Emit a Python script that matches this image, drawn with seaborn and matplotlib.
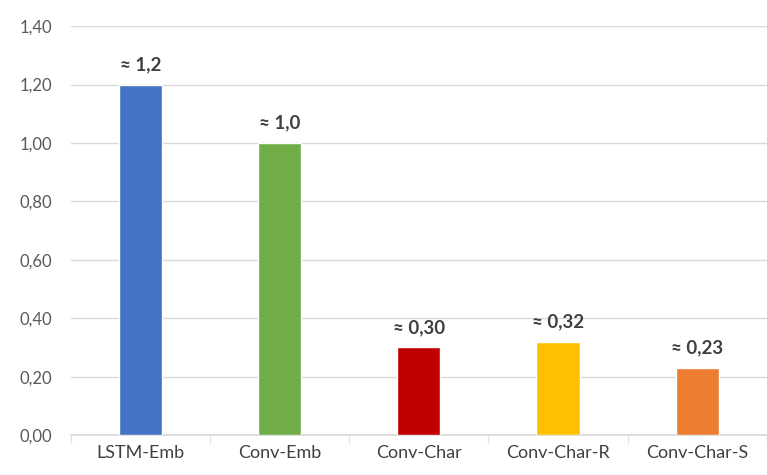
import matplotlib
matplotlib.use("Agg")
import matplotlib.pyplot as plt
import seaborn as sns
import pandas as pd
import numpy as np

categories = ["LSTM-Emb", "Conv-Emb", "Conv-Char", "Conv-Char-R", "Conv-Char-S"]
values = [1.2, 1.0, 0.30, 0.32, 0.23]
value_labels = ["≈ 1,2", "≈ 1,0", "≈ 0,30", "≈ 0,32", "≈ 0,23"]
colors = ["#4472C4", "#70AD47", "#C00000", "#FFC000", "#ED7D31"]
yticks = [0.0, 0.2, 0.4, 0.6, 0.8, 1.0, 1.2, 1.4]
ytick_labels = ["0,00", "0,20", "0,40", "0,60", "0,80", "1,00", "1,20", "1,40"]

sns.set_theme(style="white")
plt.rcParams["font.family"] = ["Lato", "DejaVu Sans"]

df = pd.DataFrame({"model": categories, "value": values})

fig = plt.figure(figsize=(7.67, 4.75), dpi=100)
ax = fig.add_axes([0.092, 0.084, 0.908, 0.861])

sns.barplot(data=df, x="model", y="value", hue="model", palette=colors,
            width=0.31, legend=False, ax=ax, zorder=3, saturation=1)

ax.set_ylim(0, 1.4)
ax.set_xlim(-0.5, len(categories) - 0.5)
ax.set_yticks(yticks)
ax.set_yticklabels(ytick_labels, color="#595959", fontsize=12)
ax.set_xticks(range(len(categories)))
ax.set_xticklabels(categories, color="#404040", fontsize=13)
ax.set_xlabel("")
ax.set_ylabel("")
ax.yaxis.grid(True, color="#D9D9D9", linewidth=1, zorder=0)
ax.tick_params(axis="y", length=0, pad=13)
ax.tick_params(axis="x", which="major", length=0, pad=7)
ax.set_xticks(np.arange(-0.5, len(categories), 1.0), minor=True)
ax.tick_params(axis="x", which="minor", bottom=True, length=6, width=1,
               color="#E3E3E3", direction="out")

for s in ["top", "right", "left"]:
    ax.spines[s].set_visible(False)
ax.spines["bottom"].set_color("#D9D9D9")

for i, (v, lab) in enumerate(zip(values, value_labels)):
    ax.text(i, v + 0.04, lab, ha="center", va="bottom", fontsize=13.5,
            fontweight="bold", color="#404040")

fig.savefig("out.png", dpi=100)
